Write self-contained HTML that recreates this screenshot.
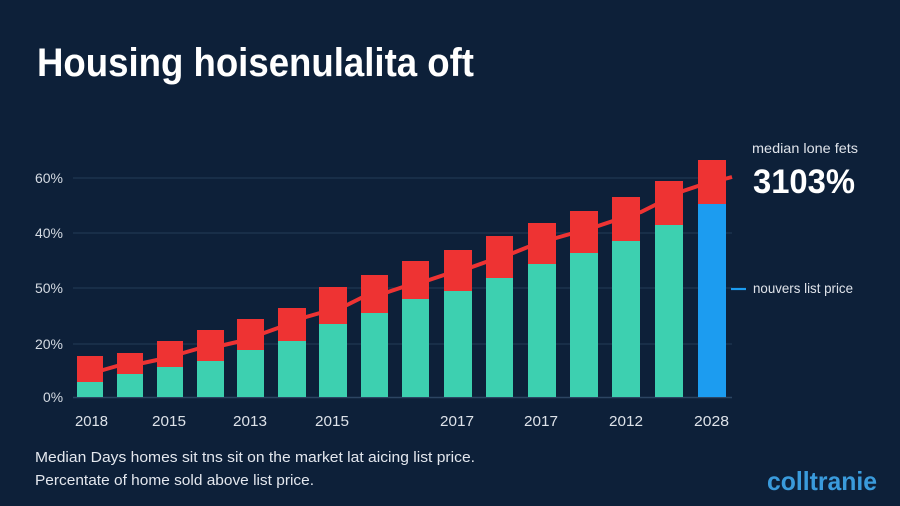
<!DOCTYPE html>
<html>
<head>
<meta charset="utf-8">
<style>
  html,body{margin:0;padding:0;background:#0d2039;}
  body{width:900px;height:506px;overflow:hidden;}
  svg{display:block;}
  text{font-family:"Liberation Sans", sans-serif;}
</style>
</head>
<body>
<svg width="900" height="506" viewBox="0 0 900 506" xmlns="http://www.w3.org/2000/svg">
  <rect x="0" y="0" width="900" height="506" fill="#0d2039"/>

  <!-- Title -->
  <text x="37" y="76" font-size="40" font-weight="bold" fill="#ffffff" textLength="437" lengthAdjust="spacingAndGlyphs">Housing hoisenulalita oft</text>

  <!-- Gridlines -->
  <g stroke="#1f3651" stroke-width="1.2">
    <line x1="73" y1="178" x2="732" y2="178"/>
    <line x1="73" y1="233" x2="732" y2="233"/>
    <line x1="73" y1="288" x2="732" y2="288"/>
    <line x1="73" y1="344" x2="732" y2="344"/>
  </g>
  <line x1="73" y1="397.5" x2="732" y2="397.5" stroke="#2c4562" stroke-width="1.5"/>

  <!-- Y labels -->
  <g font-size="14" fill="#d5dbe3">
    <text x="35" y="183" textLength="28" lengthAdjust="spacingAndGlyphs">60%</text>
    <text x="35" y="238" textLength="28" lengthAdjust="spacingAndGlyphs">40%</text>
    <text x="35" y="293" textLength="28" lengthAdjust="spacingAndGlyphs">50%</text>
    <text x="35" y="349" textLength="28" lengthAdjust="spacingAndGlyphs">20%</text>
    <text x="43" y="402" textLength="20" lengthAdjust="spacingAndGlyphs">0%</text>
  </g>

  <!-- Trend line -->
  <polyline fill="none" stroke="#ee3333" stroke-width="4" stroke-linejoin="round"
    points="90,372 103,370 117,366 143,363 157,360 183,353 197,349 224,345 237,342 264,333 278,328 306,317 320,313 347,305 361,298 388,292 403,287 429,280 444,275 472,267 486,262 513,253 528,247 556,238 570,234 598,226 613,221 641,212 655,205 683,191 698,186 732,177"/>

  <!-- Bars: red tops -->
  <g fill="#ee3333">
    <rect x="77" y="356" width="26" height="26"/>
    <rect x="117" y="353" width="26" height="21"/>
    <rect x="157" y="341" width="26" height="26"/>
    <rect x="197" y="330" width="27" height="31"/>
    <rect x="237" y="319" width="27" height="31"/>
    <rect x="278" y="308" width="28" height="33"/>
    <rect x="319" y="287" width="28" height="37"/>
    <rect x="361" y="275" width="27" height="38"/>
    <rect x="402" y="261" width="27" height="38"/>
    <rect x="444" y="250" width="28" height="41"/>
    <rect x="486" y="236" width="27" height="42"/>
    <rect x="528" y="223" width="28" height="41"/>
    <rect x="570" y="211" width="28" height="42"/>
    <rect x="612" y="197" width="28" height="44"/>
    <rect x="655" y="181" width="28" height="44"/>
    <rect x="698" y="160" width="28" height="44"/>
  </g>
  <!-- Bars: green bottoms -->
  <g fill="#3dd0b0">
    <rect x="77" y="382" width="26" height="15"/>
    <rect x="117" y="374" width="26" height="23"/>
    <rect x="157" y="367" width="26" height="30"/>
    <rect x="197" y="361" width="27" height="36"/>
    <rect x="237" y="350" width="27" height="47"/>
    <rect x="278" y="341" width="28" height="56"/>
    <rect x="319" y="324" width="28" height="73"/>
    <rect x="361" y="313" width="27" height="84"/>
    <rect x="402" y="299" width="27" height="98"/>
    <rect x="444" y="291" width="28" height="106"/>
    <rect x="486" y="278" width="27" height="119"/>
    <rect x="528" y="264" width="28" height="133"/>
    <rect x="570" y="253" width="28" height="144"/>
    <rect x="612" y="241" width="28" height="156"/>
    <rect x="655" y="225" width="28" height="172"/>
  </g>
  <rect x="698" y="204" width="28" height="193" fill="#1c9cf0"/>

  <!-- X labels -->
  <g font-size="15" fill="#dde2e9">
    <text x="75" y="426" textLength="33" lengthAdjust="spacingAndGlyphs">2018</text>
    <text x="152" y="426" textLength="34" lengthAdjust="spacingAndGlyphs">2015</text>
    <text x="233" y="426" textLength="34" lengthAdjust="spacingAndGlyphs">2013</text>
    <text x="315" y="426" textLength="34" lengthAdjust="spacingAndGlyphs">2015</text>
    <text x="440" y="426" textLength="34" lengthAdjust="spacingAndGlyphs">2017</text>
    <text x="524" y="426" textLength="34" lengthAdjust="spacingAndGlyphs">2017</text>
    <text x="609" y="426" textLength="34" lengthAdjust="spacingAndGlyphs">2012</text>
    <text x="694" y="426" textLength="35" lengthAdjust="spacingAndGlyphs">2028</text>
  </g>

  <!-- Right annotations -->
  <text x="752" y="153" font-size="14" fill="#dfe3ea" textLength="106" lengthAdjust="spacingAndGlyphs">median lone fets</text>
  <text x="753" y="193" font-size="34" font-weight="bold" fill="#ffffff" textLength="102" lengthAdjust="spacingAndGlyphs">3103%</text>
  <line x1="731" y1="289" x2="746" y2="289" stroke="#1c9cf0" stroke-width="2.2"/>
  <text x="753" y="293" font-size="14" fill="#dfe3ea" textLength="100" lengthAdjust="spacingAndGlyphs">nouvers list price</text>

  <!-- Footer -->
  <text x="35" y="462" font-size="15" fill="#e3e7ee" textLength="440" lengthAdjust="spacingAndGlyphs">Median Days homes sit tns sit on the market lat aicing list price.</text>
  <text x="35" y="485" font-size="15" fill="#e3e7ee" textLength="279" lengthAdjust="spacingAndGlyphs">Percentate of home sold above list price.</text>

  <!-- Logo -->
  <text x="767" y="490" font-size="26" font-weight="bold" fill="#3a9bdc" textLength="110" lengthAdjust="spacingAndGlyphs">colltranie</text>
</svg>
</body>
</html>
